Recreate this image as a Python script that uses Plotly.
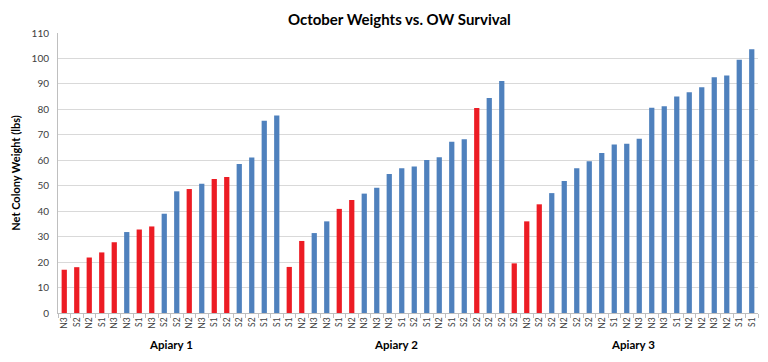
import plotly.graph_objects as go

# Data
apiaries = ["Apiary 1", "Apiary 2", "Apiary 3"]
labels_a1 = ["N3", "S2", "N2", "S1", "N3", "N3", "S1", "N3", "S2", "S2", "N2", "N3", "S1", "S2", "S2", "S2", "S1", "S1"]
labels_a2 = ["S1", "N2", "N3", "N3", "S1", "N2", "N3", "N3", "N3", "S1", "S2", "S1", "N2", "S1", "S2", "S2", "S2", "S2"]
labels_a3 = ["S2", "N3", "S2", "S2", "N2", "S2", "S2", "N2", "S1", "N2", "N3", "N3", "N3", "S1", "N2", "N2", "N3", "N2", "S1", "S1"]

weights_a1 = [17, 18, 21.8, 23.8, 27.8, 31.8, 32.8, 34, 39, 47.8, 48.7, 50.8, 52.6, 53.4, 58.5, 61.1, 75.5, 77.6]
weights_a2 = [18.1, 28.3, 31.4, 36, 40.9, 44.4, 46.9, 49.2, 54.6, 56.9, 57.6, 60.1, 61.2, 67.3, 68.3, 80.5, 84.5, 91.1]
weights_a3 = [19.5, 36, 42.7, 47.1, 51.9, 56.9, 59.6, 62.9, 66.2, 66.5, 68.5, 80.6, 81.2, 85.1, 86.7, 88.7, 92.6, 93.3, 99.5, 103.6]

# Survival status (Dead = red, Alive = blue)
status_a1 = ["D", "D", "D", "D", "D", "A", "D", "D", "A", "A", "D", "A", "D", "D", "A", "A", "A", "A"]
status_a2 = ["D", "D", "A", "A", "D", "D", "A", "A", "A", "A", "A", "A", "A", "A", "A", "D", "A", "A"]
status_a3 = ["D", "D", "D"] + ["A"] * 17

y_ticks = [0, 10, 20, 30, 40, 50, 60, 70, 80, 90, 100, 110]

color_map = {"D": "#EC1C24", "A": "#4F81BD"}

labels = labels_a1 + labels_a2 + labels_a3
weights = weights_a1 + weights_a2 + weights_a3
status = status_a1 + status_a2 + status_a3
groups = [labels_a1, labels_a2, labels_a3]
x = list(range(len(labels)))

fig = go.Figure()
fig.add_trace(go.Bar(
    x=x, y=weights,
    marker=dict(color=[color_map[s] for s in status], line=dict(width=0)),
    hoverinfo="y",
))

font_fam = "Lato, 'Open Sans', sans-serif"

annotations = []
start = 0
for name, g in zip(apiaries, groups):
    center = start + (len(g) - 1) / 2
    annotations.append(dict(
        x=center, y=0, xref="x", yref="paper", yanchor="top",
        yshift=-23, text="<b>%s</b>" % name, showarrow=False,
        font=dict(family=font_fam, size=11.5, color="#000000"),
    ))
    start += len(g)

fig.update_layout(
    width=768, height=362,
    margin=dict(l=58, r=10, t=33, b=49),
    paper_bgcolor="white", plot_bgcolor="white",
    bargap=0.58,
    showlegend=False,
    title=dict(text="<b>October Weights vs. OW Survival</b>", x=0.52, xanchor="center",
               y=0.945, yanchor="middle",
               font=dict(family=font_fam, size=15, color="#000000")),
    font=dict(family=font_fam, color="#404040"),
    annotations=annotations,
    xaxis=dict(
        tickmode="array", tickvals=x, ticktext=labels, tickangle=-90,
        tickfont=dict(size=8.5, color="#404040"),
        range=[-0.5, len(labels) - 0.5],
        showgrid=False, zeroline=False,
        showline=True, linecolor="#BFBFBF", linewidth=1,
        ticks="", ticklen=0,
        minor=dict(ticks="outside", tick0=0.5, dtick=1, ticklen=4, tickcolor="#BFBFBF", showgrid=False),
    ),
    yaxis=dict(
        range=[0, 110], tickmode="array", tickvals=y_ticks,
        tickfont=dict(size=10, color="#404040"),
        showgrid=True, gridcolor="#D9D9D9", gridwidth=1,
        zeroline=False, showline=True, linecolor="#BFBFBF", linewidth=1,
        ticks="", ticklabelstandoff=6,
        title=dict(text="<b>Net Colony Weight (lbs)</b>", standoff=8,
                   font=dict(family=font_fam, size=11, color="#000000")),
    ),
)

fig.write_html("out.html", config={"displayModeBar": False},
               post_script="document.body.style.margin='0';")
